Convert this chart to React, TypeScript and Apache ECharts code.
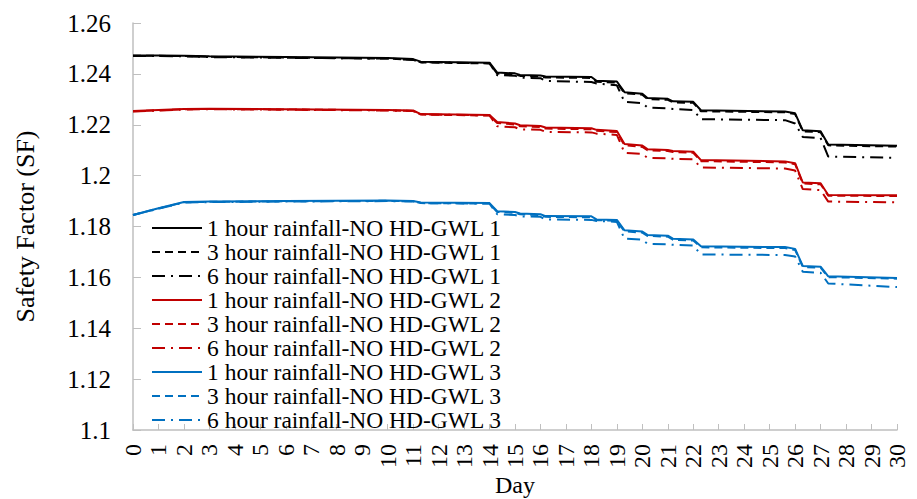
import React, { useEffect, useRef } from "react";
import * as echarts from "echarts";

const days = [0, 1, 2, 3, 6, 10, 11, 11.3, 14, 14.3, 15, 15.2, 16, 16.2, 18, 18.2, 19, 19.3, 20, 20.2, 21, 21.2, 22, 22.3, 25.6, 26, 26.3, 27, 27.3, 30];

const gwl1h1 = [1.2472, 1.2472, 1.2471, 1.2469, 1.2466, 1.2462, 1.2458, 1.2448, 1.2444, 1.2405, 1.2402, 1.2396, 1.2394, 1.239, 1.2388, 1.2373, 1.237, 1.2328, 1.2322, 1.2305, 1.2302, 1.2292, 1.229, 1.2257, 1.2252, 1.2245, 1.2178, 1.2174, 1.2122, 1.2117];
const gwl1h3 = [1.2471, 1.2471, 1.247, 1.2467, 1.2464, 1.246, 1.2456, 1.2445, 1.2441, 1.2401, 1.2398, 1.2392, 1.239, 1.2386, 1.2384, 1.2369, 1.2366, 1.2324, 1.2318, 1.2301, 1.2298, 1.2288, 1.2286, 1.2253, 1.2249, 1.2242, 1.2174, 1.2171, 1.2119, 1.2114];
const gwl1h6 = [1.247, 1.247, 1.2469, 1.2466, 1.2463, 1.246, 1.2455, 1.2446, 1.2442, 1.2395, 1.2393, 1.2385, 1.2383, 1.2372, 1.2368, 1.2362, 1.2355, 1.229, 1.2285, 1.2268, 1.2265, 1.2262, 1.2258, 1.2222, 1.2218, 1.2205, 1.2152, 1.2148, 1.2075, 1.207];

const gwl2h1 = [1.2254, 1.2258, 1.2262, 1.2263, 1.2261, 1.2258, 1.2256, 1.2242, 1.2238, 1.2211, 1.2205, 1.2198, 1.2195, 1.2189, 1.2186, 1.218, 1.2175, 1.2124, 1.2118, 1.2104, 1.2101, 1.2097, 1.2094, 1.2061, 1.2056, 1.2049, 1.1973, 1.197, 1.1924, 1.1923];
const gwl2h3 = [1.2253, 1.2257, 1.2261, 1.2262, 1.226, 1.2257, 1.2254, 1.224, 1.2236, 1.2207, 1.2201, 1.2194, 1.2191, 1.2185, 1.2182, 1.2176, 1.2171, 1.2119, 1.2113, 1.21, 1.2097, 1.2093, 1.209, 1.2057, 1.2052, 1.2045, 1.1969, 1.1966, 1.1921, 1.192];
const gwl2h6 = [1.2252, 1.2256, 1.226, 1.2261, 1.2259, 1.2256, 1.2254, 1.2241, 1.2237, 1.2194, 1.219, 1.2182, 1.218, 1.2172, 1.217, 1.2165, 1.216, 1.209, 1.2085, 1.207, 1.2068, 1.2066, 1.2064, 1.2032, 1.2028, 1.202, 1.1947, 1.1943, 1.1898, 1.1895];

const gwl3h1 = [1.1845, 1.1872, 1.1896, 1.1898, 1.19, 1.1902, 1.19, 1.1894, 1.1892, 1.186, 1.1857, 1.1851, 1.1848, 1.1841, 1.184, 1.1828, 1.1826, 1.1785, 1.178, 1.1767, 1.1764, 1.1752, 1.1749, 1.1722, 1.1719, 1.1712, 1.1645, 1.1642, 1.1604, 1.1598];
const gwl3h3 = [1.1845, 1.1871, 1.1895, 1.1897, 1.1899, 1.1901, 1.1899, 1.1892, 1.189, 1.1857, 1.1854, 1.1848, 1.1845, 1.1838, 1.1836, 1.1825, 1.1822, 1.1781, 1.1776, 1.1763, 1.176, 1.1748, 1.1745, 1.1718, 1.1715, 1.1708, 1.1641, 1.1638, 1.1601, 1.1595];
const gwl3h6 = [1.1845, 1.187, 1.1894, 1.1896, 1.1898, 1.19, 1.1898, 1.1892, 1.189, 1.1848, 1.1845, 1.184, 1.1838, 1.1828, 1.1826, 1.1822, 1.1818, 1.1752, 1.1748, 1.1732, 1.173, 1.1728, 1.1725, 1.169, 1.1688, 1.1682, 1.1622, 1.1618, 1.1576, 1.1562];

const seriesNames = [
  "1 hour rainfall-NO HD-GWL 1",
  "3 hour rainfall-NO HD-GWL 1",
  "6 hour rainfall-NO HD-GWL 1",
  "1 hour rainfall-NO HD-GWL 2",
  "3 hour rainfall-NO HD-GWL 2",
  "6 hour rainfall-NO HD-GWL 2",
  "1 hour rainfall-NO HD-GWL 3",
  "3 hour rainfall-NO HD-GWL 3",
  "6 hour rainfall-NO HD-GWL 3",
];
const seriesValues = [gwl1h1, gwl1h3, gwl1h6, gwl2h1, gwl2h3, gwl2h6, gwl3h1, gwl3h3, gwl3h6];
const yTicks = { min: 1.1, max: 1.26, interval: 0.02 };
const xTicks = { min: 0, max: 30, interval: 1 };

const FONT = "'Liberation Serif', 'Times New Roman', 'DejaVu Serif', serif";
const colors = ["#000000", "#c00000", "#0070c0"];
const dashTypes: any[] = ["solid", [8, 5], [13, 6, 2, 6]];

export default function App() {
  const ref = useRef<HTMLDivElement>(null);
  useEffect(() => {
    if (!ref.current) return;
    const chart = echarts.init(ref.current, null, { renderer: "svg" });
    const series = seriesNames.map((name, i) => ({
      name,
      type: "line",
      data: days.map((d, j) => [d, seriesValues[i][j]]),
      showSymbol: false,
      symbol: "none",
      lineStyle: {
        color: colors[Math.floor(i / 3)],
        width: 2,
        type: dashTypes[i % 3],
      },
      itemStyle: { color: colors[Math.floor(i / 3)] },
    }));
    chart.setOption({
      animation: false,
      textStyle: { fontFamily: FONT },
      grid: {
        left: 133,
        right: 20,
        top: 23,
        bottom: 69,
        containLabel: false,
        outerBoundsMode: "none",
      },
      legend: {
        orient: "vertical",
        left: 151,
        top: 216,
        padding: 0,
        itemGap: 0,
        itemWidth: 50,
        itemHeight: 14,
        data: seriesNames,
        itemStyle: { opacity: 0, color: "transparent", borderWidth: 0 },
        textStyle: { fontFamily: FONT, fontSize: 23.5, lineHeight: 23, color: "#000" },
      },
      xAxis: {
        type: "value",
        min: xTicks.min,
        max: xTicks.max,
        interval: xTicks.interval,
        name: "Day",
        nameLocation: "middle",
        nameGap: 43,
        nameMoveOverlap: false,
        nameTextStyle: { fontFamily: FONT, fontSize: 24, lineHeight: 24, color: "#000" },
        axisLine: { lineStyle: { color: "#bfbfbf", width: 1.5 } },
        axisTick: { inside: true, length: 6, lineStyle: { color: "#bfbfbf" } },
        splitLine: { show: false },
        axisLabel: {
          rotate: 90,
          fontFamily: FONT,
          fontSize: 24,
          color: "#000",
          margin: 14,
          hideOverlap: false,
          showMinLabel: true,
          showMaxLabel: true,
        },
      },
      yAxis: {
        type: "value",
        min: yTicks.min,
        max: yTicks.max,
        interval: yTicks.interval,
        name: "Safety Factor (SF)",
        nameLocation: "middle",
        nameGap: 95,
        nameMoveOverlap: false,
        nameTextStyle: { fontFamily: FONT, fontSize: 26, color: "#000" },
        axisLine: { show: true, lineStyle: { color: "#bfbfbf", width: 1.5 } },
        axisTick: { show: true, inside: true, length: 8, lineStyle: { color: "#bfbfbf" } },
        splitLine: { show: false },
        axisLabel: {
          fontFamily: FONT,
          fontSize: 25,
          color: "#000",
          margin: 22,
          formatter: (v: number) => String(+v.toFixed(2)),
        },
      },
      series,
    });
    return () => chart.dispose();
  }, []);
  return (
    <div
      ref={ref}
      style={{ position: "fixed", left: 0, top: 0, width: 917, height: 499, background: "#fff" }}
    />
  );
}
